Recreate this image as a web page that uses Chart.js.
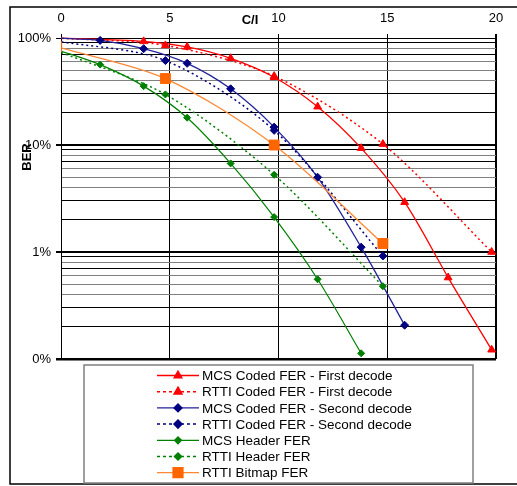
<!DOCTYPE html>
<html>
<head>
<meta charset="utf-8">
<script src="https://cdn.jsdelivr.net/npm/chart.js@4/dist/chart.umd.min.js"></script>
<style>
  body { margin: 0; background: #fff; }
</style>
</head>
<body>
<canvas id="myChart" width="517" height="486"></canvas>
<script>
// C/I values (points at -0.2 sit just left of the axis and get clipped, like the original)
const xRed   = [-0.2, 3.8, 5.8, 7.8, 9.8, 11.8, 13.8, 15.8, 17.8, 19.8];
const xEvery2 = [-0.2, 1.8, 3.8, 5.8, 7.8, 9.8, 11.8, 13.8, 15.8];
const xEvery5 = [-0.2, 4.8, 9.8, 14.8, 19.8];

// BER values as fractions
const mcsFirst   = [1.0, 0.93, 0.825, 0.646, 0.43, 0.228, 0.0934, 0.0292, 0.00577, 0.00122];
const rttiFirst  = [1.0, 0.853, 0.44, 0.102, 0.0100];
const mcsSecond  = [1.0, 0.95, 0.795, 0.58, 0.335, 0.147, 0.0499, 0.0111, 0.00207];
const rttiSecond = [0.937, 0.615, 0.137, 0.00918];
const mcsHeader  = [0.78, 0.564, 0.355, 0.18, 0.0673, 0.0212, 0.00556, 0.00113];
const rttiHeader = [0.76, 0.297, 0.0527, 0.00479];
const rttiBitmap = [0.83, 0.418, 0.100, 0.0120];

const seriesNames = [
  "MCS Coded FER - First decode",
  "RTTI Coded FER - First decode",
  "MCS Coded FER - Second decode",
  "RTTI Coded FER - Second decode",
  "MCS Header FER",
  "RTTI Header FER",
  "RTTI Bitmap FER"
];

const xTicks = [0, 5, 10, 15, 20];
const yMajorTicks = [1, 0.1, 0.01, 0.001];
const yTickLabels = ["100%", "10%", "1%", "0%"];

const FONT = "Arial, 'Liberation Sans', sans-serif";

function pts(xs, ys) {
  return ys.map((y, i) => ({ x: xs[i], y: y }));
}

function series(name, data, color, markColor, dashed, style, radius, width, order) {
  return {
    label: name,
    data: data,
    showLine: true,
    order: order,
    borderColor: color,
    backgroundColor: markColor,
    pointBackgroundColor: markColor,
    pointBorderColor: markColor,
    borderWidth: width,
    borderDash: dashed ? [2, 3] : [],
    pointStyle: style,
    pointRadius: radius,
    pointHoverRadius: radius,
    pointBorderWidth: 1,
    tension: 0.3,
    clip: { left: 0, top: 6, right: 6, bottom: 6 }
  };
}

function isMajor(v) {
  return yMajorTicks.some(m => Math.abs(v - m) < m * 1e-6);
}

function multiplier(v) {
  const e = Math.floor(Math.log10(v) + 1e-9);
  return Math.round(v / Math.pow(10, e));
}

const decor = {
  id: "decor",
  beforeDraw(chart) {
    const ctx = chart.ctx;
    ctx.save();
    ctx.fillStyle = "#fff";
    ctx.fillRect(0, 0, chart.width, chart.height);
    ctx.restore();
  },
  afterDraw(chart) {
    const ctx = chart.ctx;
    ctx.save();

    // outer frame
    ctx.strokeStyle = "#000";
    ctx.lineWidth = 1.5;
    ctx.beginPath();
    ctx.moveTo(517, 7);
    ctx.lineTo(10, 7);
    ctx.lineTo(10, 484);
    ctx.lineTo(517, 484);
    ctx.stroke();

    // axis titles
    ctx.fillStyle = "#000";
    ctx.font = "bold 13px " + FONT;
    ctx.textAlign = "center";
    ctx.textBaseline = "middle";
    ctx.fillText("C/I", 250, 20);
    ctx.save();
    ctx.translate(27, 157);
    ctx.rotate(-Math.PI / 2);
    ctx.fillText("BER", 0, 0);
    ctx.restore();

    // legend
    ctx.strokeStyle = "#808080";
    ctx.lineWidth = 1.5;
    ctx.strokeRect(84, 365, 389, 118);
    ctx.font = "13.5px " + FONT;
    ctx.textAlign = "left";
    const sorted = chart.data.datasets.slice().sort((a, b) => b.order - a.order);
    sorted.forEach((ds, i) => {
      const y = 375.5 + i * 16.2;
      ctx.strokeStyle = ds.borderColor;
      ctx.lineWidth = ds.borderWidth;
      ctx.setLineDash(ds.borderDash.length ? [3, 3] : []);
      ctx.beginPath();
      ctx.moveTo(157, y);
      ctx.lineTo(199, y);
      ctx.stroke();
      ctx.setLineDash([]);
      ctx.fillStyle = ds.pointBackgroundColor;
      ctx.strokeStyle = ds.pointBorderColor;
      Chart.helpers.drawPoint(ctx, {
        pointStyle: ds.pointStyle,
        radius: ds.pointRadius,
        borderWidth: 1,
        rotation: 0
      }, 178, y);
      ctx.fillStyle = "#000";
      ctx.fillText(ds.label, 202, y + 1);
    });

    ctx.restore();
  }
};

new Chart("myChart", {
  type: "scatter",
  data: {
    datasets: [
      series(seriesNames[0], pts(xRed, mcsFirst), "#ff0000", "#ff0000", false, "triangle", 4.5, 1.3, 7),
      series(seriesNames[1], pts(xEvery5, rttiFirst), "#ff0000", "#ff0000", true, "triangle", 4.5, 1.5, 6),
      series(seriesNames[2], pts(xEvery2, mcsSecond), "#22229a", "#000080", false, "rectRot", 4, 1.3, 5),
      series(seriesNames[3], pts(xEvery5, rttiSecond), "#000080", "#000080", true, "rectRot", 4, 1.5, 4),
      series(seriesNames[4], pts(xEvery2, mcsHeader), "#008000", "#008000", false, "rectRot", 3.5, 1.2, 3),
      series(seriesNames[5], pts(xEvery5, rttiHeader), "#008000", "#008000", true, "rectRot", 3.5, 1.5, 2),
      series(seriesNames[6], pts(xEvery5, rttiBitmap), "#ff8833", "#ff6600", false, "rect", 7, 1.3, 1)
    ]
  },
  options: {
    responsive: false,
    animation: false,
    layout: { padding: { left: 0, top: 0, right: 21, bottom: 127 } },
    plugins: {
      legend: { display: false },
      tooltip: { enabled: false }
    },
    scales: {
      x: {
        type: "linear",
        position: "top",
        min: 0,
        max: 20,
        afterBuildTicks: s => { s.ticks = xTicks.map(v => ({ value: v })); },
        afterFit: s => { s.height = 38; },
        ticks: {
          color: "#000",
          font: { family: FONT, size: 13 },
          padding: 8,
          maxRotation: 0,
          autoSkip: false
        },
        grid: {
          color: "#000",
          lineWidth: c => (c.tick && c.tick.value === 20 ? 2 : 1),
          tickLength: 4
        },
        border: { display: false }
      },
      y: {
        type: "logarithmic",
        min: 0.001,
        max: 1,
        afterBuildTicks: s => {
          const t = [];
          [0.001, 0.01, 0.1].forEach(d => {
            for (let m = 1; m <= 9; m++) t.push({ value: m * d });
          });
          t.push({ value: 1 });
          s.ticks = t;
        },
        afterFit: s => { s.width = 61; },
        ticks: {
          color: "#000",
          font: { family: FONT, size: 13 },
          padding: 5,
          autoSkip: false,
          callback: v => {
            const i = yMajorTicks.findIndex(m => Math.abs(v - m) < m * 1e-6);
            return i >= 0 ? yTickLabels[i] : "";
          }
        },
        grid: {
          tickLength: 5,
          color: c => {
            const v = c.tick ? c.tick.value : 1;
            if (isMajor(v)) return "#000";
            return [8, 6, 5, 4].includes(multiplier(v)) ? "#808080" : "#000";
          },
          tickColor: c => (c.tick && isMajor(c.tick.value) ? "#000" : "rgba(0,0,0,0)"),
          lineWidth: c => {
            const v = c.tick ? c.tick.value : 1;
            if (Math.abs(v - 0.001) < 1e-9) return 2.5;
            if (isMajor(v) && v < 1) return 2;
            return 1;
          }
        },
        border: { display: true, color: "#000", width: 1 }
      }
    }
  },
  plugins: [decor]
});
</script>
</body>
</html>
